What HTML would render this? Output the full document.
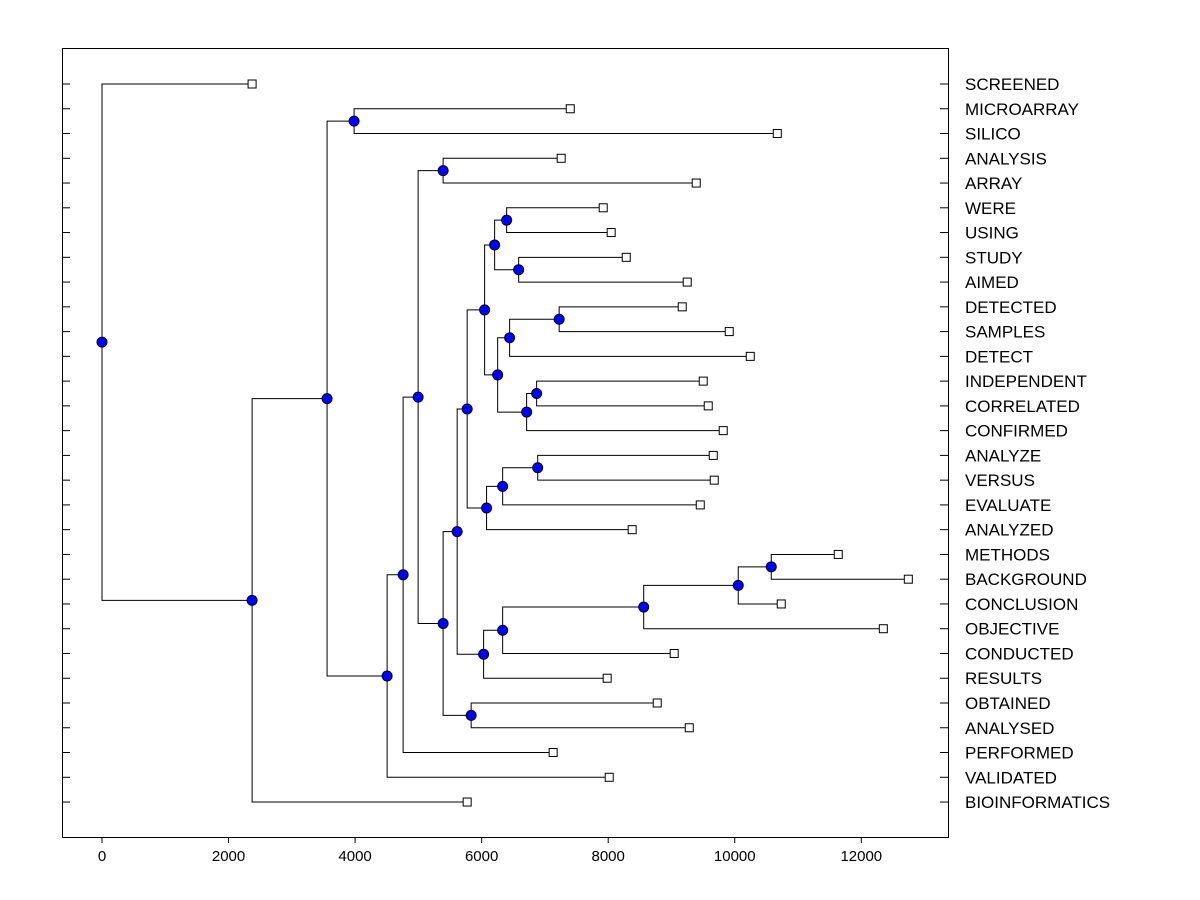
<!DOCTYPE html>
<html><head><meta charset="utf-8"><style>
html,body{margin:0;padding:0;background:#fff;}
svg{display:block;font-family:"Liberation Sans",Arial,sans-serif;}
</style></head><body>
<svg id="chart" width="1200" height="900" viewBox="0 0 1200 900">
<rect x="62.5" y="48.5" width="886" height="789" fill="none" stroke="#000" stroke-width="1"/>
<g id="g-lines"></g>
<g id="g-marks"></g>
<g id="g-axis"></g>
</svg>
<script>
const leafLabels=["SCREENED","MICROARRAY","SILICO","ANALYSIS","ARRAY","WERE","USING","STUDY","AIMED","DETECTED","SAMPLES","DETECT","INDEPENDENT","CORRELATED","CONFIRMED","ANALYZE","VERSUS","EVALUATE","ANALYZED","METHODS","BACKGROUND","CONCLUSION","OBJECTIVE","CONDUCTED","RESULTS","OBTAINED","ANALYSED","PERFORMED","VALIDATED","BIOINFORMATICS"];
const leafValues=[2372,7400,10672,7257,9391,7921,8047,8285,9249,9170,9913,10245,9502,9581,9818,9660,9676,9455,8379,11636,12743,10735,12348,9043,7984,8775,9281,7130,8016,5771];
const mergeLeft=[1,3,5,7,32,9,35,12,37,36,34,15,41,42,40,19,45,46,47,48,44,25,50,31,53,54,30,56,0];
const mergeRight=[2,4,6,8,33,10,11,13,14,38,39,16,17,18,43,20,21,22,23,24,49,26,51,52,27,28,55,29,57];
const mergeHeights=[3984,5391,6395,6585,6205,7225,6442,6869,6711,6253,6047,6886,6332,6078,5771,10577,10055,8561,6332,6031,5613,5834,5391,4996,4759,4506,3557,2372,0];
const xTicks=[0,2000,4000,6000,8000,10000,12000];

const NS="http://www.w3.org/2000/svg";
const xs=v=>102+v*0.063275;
const ys=i=>84+i*24.76;
const gL=document.getElementById('g-lines'),gM=document.getElementById('g-marks'),gA=document.getElementById('g-axis');
function mk(tag,attrs,parent){const e=document.createElementNS(NS,tag);for(const k in attrs)e.setAttribute(k,attrs[k]);parent.appendChild(e);return e;}
const nx=[],ny=[];
for(let i=0;i<leafLabels.length;i++){nx.push(xs(leafValues[i]));ny.push(ys(i));}
const N=leafLabels.length;
for(let m=0;m<mergeHeights.length;m++){
  const a=mergeLeft[m],b=mergeRight[m],x=xs(mergeHeights[m]);
  const y=(ny[a]+ny[b])/2;nx.push(x);ny.push(y);
  const p=mk('path',{d:`M${nx[a]},${ny[a]}H${x}V${ny[b]}H${nx[b]}`,fill:'none',stroke:'#000','stroke-width':1},gL);
  
  
}
for(let i=0;i<N;i++){
  const r=mk('rect',{x:nx[i]-4,y:ny[i]-4,width:8,height:8,fill:'#fff',stroke:'#000','stroke-width':1},gM);
  
  
  const t1=mk('line',{x1:62,x2:70,y1:ny[i],y2:ny[i],stroke:'#000'},gA);
  
  
  const t2=mk('line',{x1:940,x2:948,y1:ny[i],y2:ny[i],stroke:'#000'},gA);
  
  
  const t=mk('text',{x:965,y:ny[i]+6,'font-size':17,fill:'#000'},gA);
  t.textContent=leafLabels[i];
  
  
}
for(let k=N;k<nx.length;k++){
  const c=mk('circle',{cx:nx[k],cy:ny[k],r:5,fill:'#0000ff',stroke:'#000020','stroke-width':1},gM);
  
  
}
for(const v of xTicks){
  const x=xs(v);
  const l=mk('line',{x1:x,x2:x,y1:837,y2:843,stroke:'#000'},gA);
  
  
  const t=mk('text',{x:x,y:861,'font-size':15,'text-anchor':'middle',fill:'#000'},gA);
  t.textContent=v;
  
  
}
</script>
</body></html>
